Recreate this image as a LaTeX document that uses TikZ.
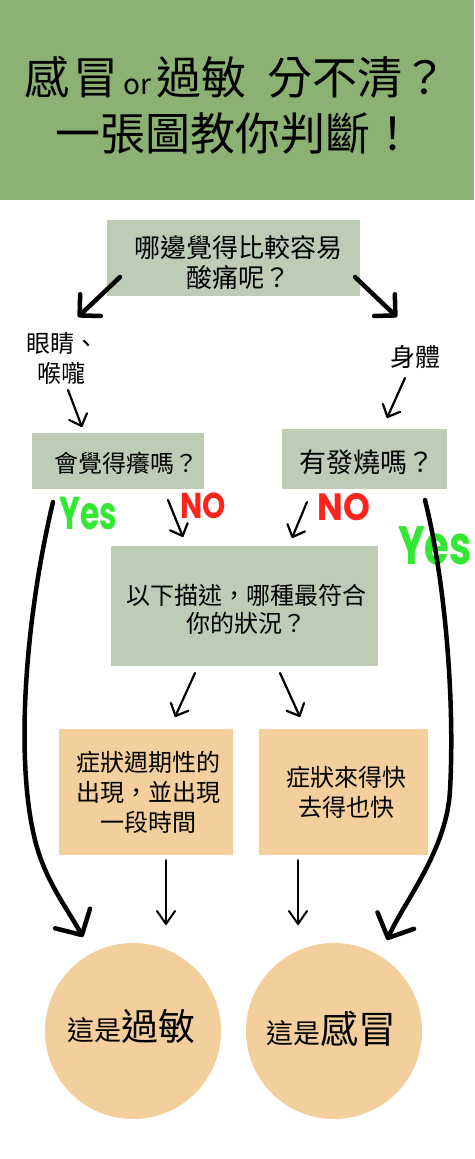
\documentclass[tikz,border=0pt]{standalone}
\usepackage{fontspec}
\setmainfont{Noto Sans CJK TC}
\newfontfamily\hand{Poppins}
\usetikzlibrary{arrows.meta}
\definecolor{titlegreen}{RGB}{139,178,114}
\definecolor{boxgreen}{RGB}{190,204,181}
\definecolor{boxorange}{RGB}{242,207,157}
\definecolor{yesgreen}{RGB}{50,232,50}
\definecolor{nored}{RGB}{255,35,30}
\newcommand{\fs}[2]{\fontsize{#1}{#2}\selectfont}
\begin{document}
\begin{tikzpicture}[x=1pt,y=-1pt,
  greybox/.style={fill=boxgreen, draw=none, inner sep=0pt},
  orangebox/.style={fill=boxorange, draw=none, inner sep=0pt},
  endcircle/.style={circle, fill=boxorange, draw=none, inner sep=0pt, minimum size=176pt},
  txt/.style={inner sep=0pt, align=center, text=black},
  yeslabel/.style={inner sep=0pt, text=yesgreen, font=\hand\bfseries},
  nolabel/.style={inner sep=0pt, text=nored, font=\hand\bfseries},
  bigarrow/.style={line width=4.5pt, line cap=round, line join=round, -{Straight Barb[length=15pt,width=30pt,round]}},
  curvearrow/.style={line width=4.5pt, line cap=round, line join=round, -{Straight Barb[length=19pt,width=40pt,round]}},
  thinarrow/.style={line width=2.2pt, line cap=round, line join=round, -{Straight Barb[length=10pt,width=19pt,round]}},
  vertarrow/.style={line width=2pt, line cap=round, line join=round, -{Straight Barb[length=13pt,width=18pt,round]}}
]
\useasboundingbox (0,0) rectangle (474,1159);
\fill[white] (0,0) rectangle (474,1159);
\fill[titlegreen] (0,0) rectangle (474,200);

% title
\node[txt, anchor=base west, font=\fs{45}{45}] (title1) at (24,94)
  {感\hspace{4pt}冒\hspace{5pt}{\fs{28}{28}or}\hspace{5pt}過敏\hspace{22pt}分不清？};
\node[txt, anchor=base west, font=\fs{45}{45}] (title2) at (55,150) {一張圖教你判斷！};

% boxes
\node[greybox, minimum width=253pt, minimum height=76pt] (b1) at (233.5,258) {};
\node[txt, font=\fs{26}{30}] (t1) at (238,263) {哪邊覺得比較容易\\酸痛呢？};

\node[greybox, minimum width=172pt, minimum height=56pt] (b2) at (118,461) {};
\node[txt, font=\fs{24}{28}] (t2) at (126,463) {會覺得癢嗎？};

\node[greybox, minimum width=165pt, minimum height=60pt] (b3) at (364.5,459) {};
\node[txt, font=\fs{27}{30}] (t3) at (367,462) {有發燒嗎？};

\node[greybox, minimum width=267pt, minimum height=120pt] (b4) at (244.5,606) {};
\node[txt, font=\fs{24}{28}] (t4) at (246,609) {以下描述，哪種最符合\\你的狀況？};

\node[orangebox, minimum width=174pt, minimum height=126pt] (b5) at (146,792) {};
\node[txt, font=\fs{24}{30}] (t5) at (148,792) {症狀週期性的\\出現，並出現\\一段時間};

\node[orangebox, minimum width=169pt, minimum height=126pt] (b6) at (343.5,792) {};
\node[txt, font=\fs{24}{30}] (t6) at (346,792) {症狀來得快\\去得也快};

\node[endcircle] (c1) at (133,1031) {};
\node[txt, anchor=base] (tc1) at (131.5,1040) {{\fs{27}{27}這是}{\fs{37}{37}過敏}};
\node[endcircle] (c2) at (334,1031) {};
\node[txt, anchor=base] (tc2) at (331,1043) {{\fs{27}{27}這是}{\fs{38}{38}感冒}};

% side labels
\node[txt, font=\fs{24}{30}] (l1) at (62,358) {眼睛、\\喉嚨};
\node[txt, font=\fs{25}{30}] (l2) at (415,357) {身體};

% Yes / NO
\node[yeslabel] (yes1) at (88,514) {\fs{46}{46}\scalebox{0.68}[1]{Yes}};
\node[nolabel] (no1) at (203,506) {\fs{36}{36}\scalebox{0.82}[1]{NO}};
\node[nolabel] (no2) at (344,507) {\fs{38}{38}\scalebox{0.9}[1]{NO}};
\node[yeslabel] (yes2) at (435,546) {\fs{54}{54}\scalebox{0.74}[1]{Yes}};

% connector end points
\coordinate (a1s) at (120,277); \coordinate (a1e) at (78,317);
\coordinate (a2s) at (355,277); \coordinate (a2e) at (397,317);
\coordinate (a3s) at (68,390);  \coordinate (a3e) at (82,427);
\coordinate (a4s) at (405,378); \coordinate (a4e) at (387,418);
\coordinate (a5s) at (168,500); \coordinate (a5e) at (183,537);
\coordinate (a6s) at (307,502); \coordinate (a6e) at (292,538);
\coordinate (a7s) at (195,673); \coordinate (a7e) at (175,717);
\coordinate (a8s) at (280,673); \coordinate (a8e) at (300,717);
\coordinate (a9s) at (166,860); \coordinate (a9e) at (166,925);
\coordinate (a10s) at (298,860); \coordinate (a10e) at (298,925);
\coordinate (cls) at (53,502); \coordinate (clm) at (35,840); \coordinate (cle) at (83,937);
\coordinate (crs) at (425,500); \coordinate (crm) at (450,790); \coordinate (cre) at (387,940);

% arrows
\draw[bigarrow] (a1s) -- (a1e);
\draw[bigarrow] (a2s) -- (a2e);
\draw[thinarrow] (a3s) -- (a3e);
\draw[thinarrow] (a4s) -- (a4e);
\draw[thinarrow] (a5s) -- (a5e);
\draw[thinarrow] (a6s) -- (a6e);
\draw[thinarrow] (a7s) -- (a7e);
\draw[thinarrow] (a8s) -- (a8e);
\draw[vertarrow] (a9s) -- (a9e);
\draw[vertarrow] (a10s) -- (a10e);
\draw[curvearrow] (cls) .. controls (25,620) and (15,760) .. (clm) .. controls (45,880) and (65,905) .. (cle);
\draw[curvearrow] (crs) .. controls (445,580) and (455,700) .. (crm) .. controls (447,850) and (405,900) .. (cre);
\end{tikzpicture}
\end{document}
